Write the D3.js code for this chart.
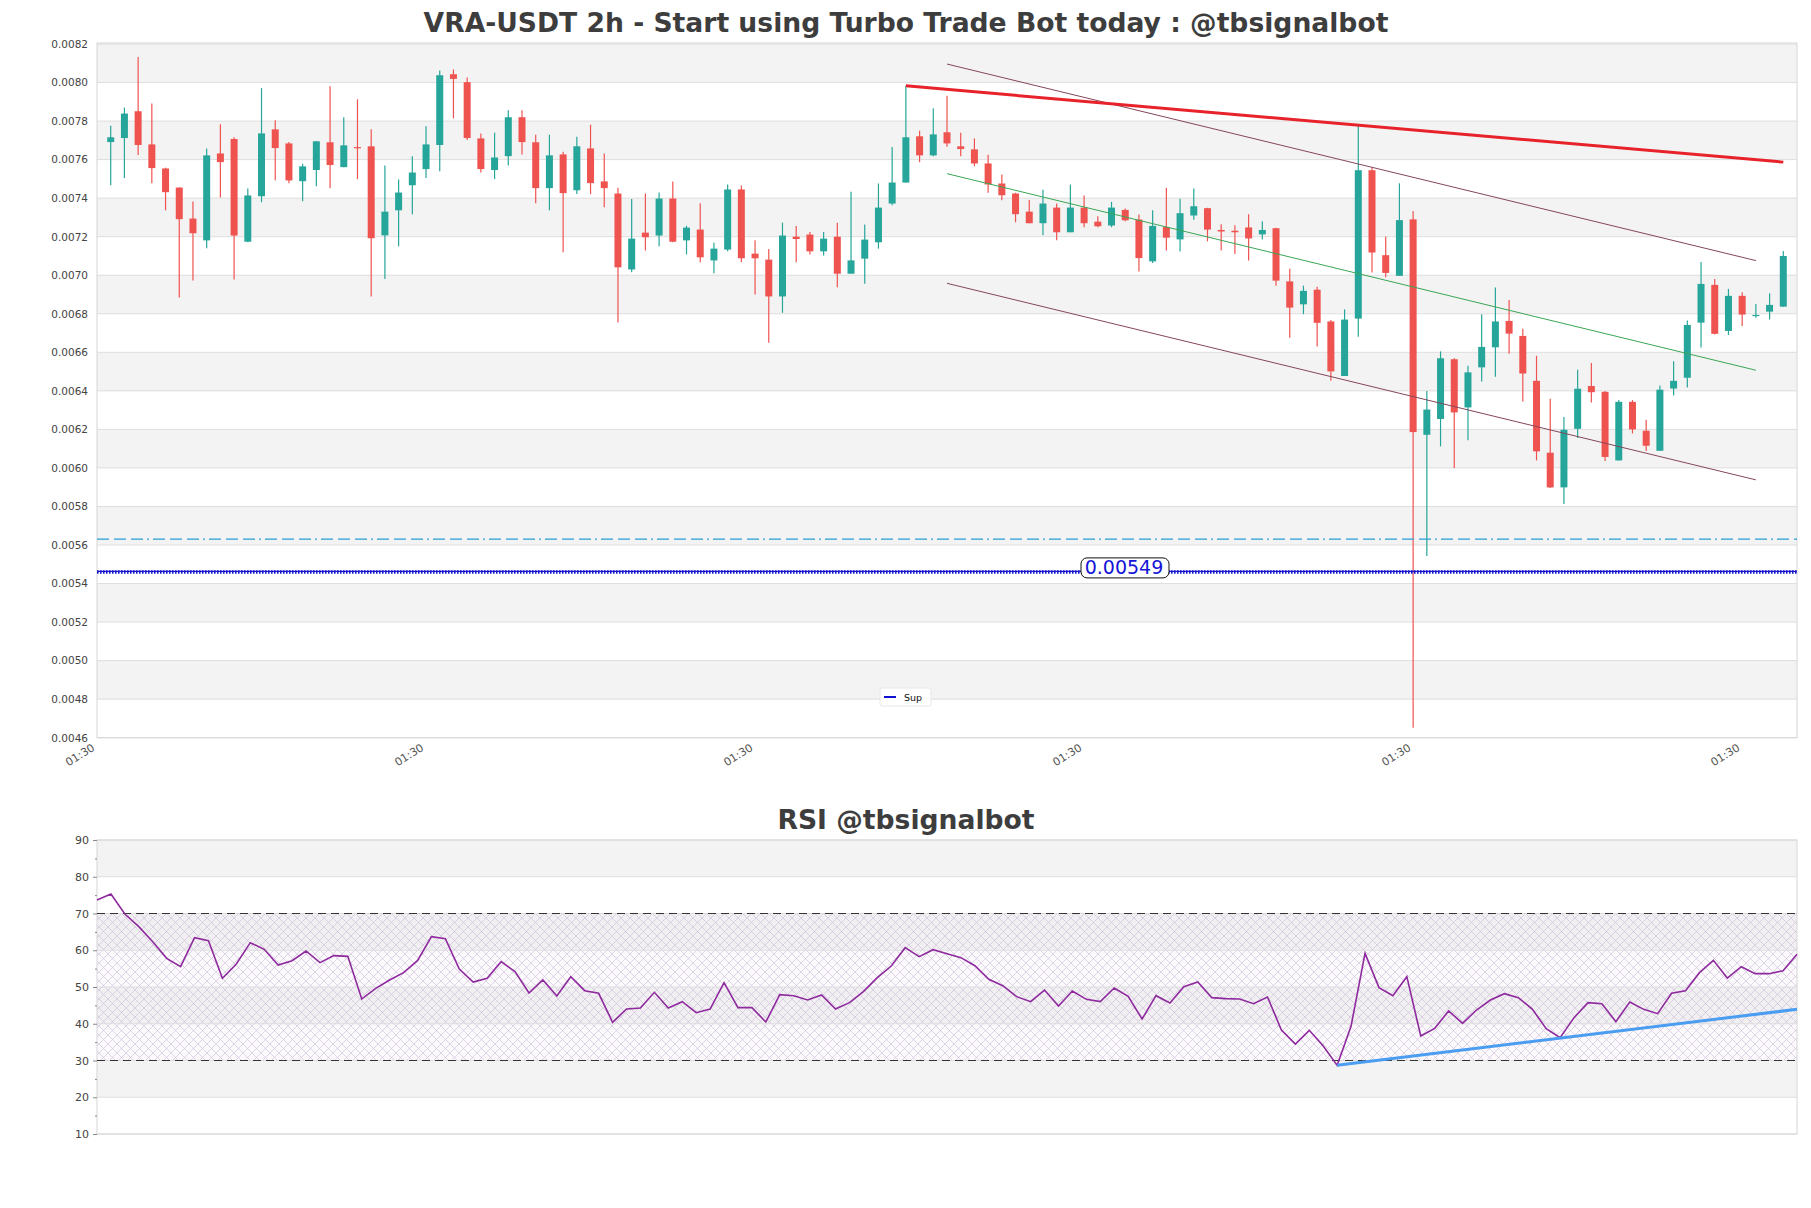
<!DOCTYPE html>
<html><head><meta charset="utf-8">
<script src="https://cdn.jsdelivr.net/npm/d3@7"></script>
<style>body{margin:0;background:#fff;} svg{display:block;font-family:"DejaVu Sans",sans-serif;}</style>
</head><body><svg id="c" width="1811" height="1208"></svg>
<script>
// ---------- DATA ----------
const titleText = "VRA-USDT 2h - Start using Turbo Trade Bot today : @tbsignalbot";
const rsiTitle = "RSI @tbsignalbot";
const open = [0.007691,0.007712,0.007851,0.007679,0.007554,0.007455,0.007294,0.007181,0.007632,0.007707,
0.007174,0.007410,0.007757,0.007684,0.007488,0.007546,0.007690,0.007561,0.007665,0.007669,
0.007207,0.007337,0.007467,0.007551,0.007676,0.008043,0.008002,0.007710,0.007546,0.007618,
0.007820,0.007690,0.007452,0.007627,0.007441,0.007658,0.007487,0.007424,0.007030,0.007221,
0.007206,0.007398,0.007181,0.007237,0.007077,0.007133,0.007445,0.007112,0.007081,0.006890,
0.007200,0.007211,0.007124,0.007200,0.007008,0.007086,0.007171,0.007372,0.007481,0.007721,
0.007622,0.007742,0.007669,0.007653,0.007580,0.007476,0.007424,0.007330,0.007270,0.007351,
0.007223,0.007351,0.007278,0.007258,0.007339,0.007289,0.007072,0.007250,0.007186,0.007310,
0.007348,0.007235,0.007231,0.007248,0.007212,0.007244,0.006968,0.006849,0.006925,0.006760,
0.006477,0.006775,0.007545,0.007104,0.006997,0.007290,0.006172,0.006254,0.006564,0.006314,
0.006522,0.006626,0.006763,0.006685,0.006452,0.006079,0.005899,0.006203,0.006425,0.006395,
0.006039,0.006343,0.006193,0.006089,0.006412,0.006468,0.006754,0.006950,0.006711,0.006893,
0.006791,0.006811,0.006837];
const high = [0.007776,0.007870,0.008132,0.007891,0.007558,0.007455,0.007382,0.007658,0.007783,0.007716,
0.007450,0.007971,0.007804,0.007691,0.007578,0.007696,0.007981,0.007820,0.007913,0.007757,
0.007570,0.007497,0.007617,0.007773,0.008062,0.008068,0.008026,0.007735,0.007740,0.007856,
0.007856,0.007729,0.007729,0.007641,0.007719,0.007781,0.007632,0.007454,0.007396,0.007424,
0.007429,0.007487,0.007256,0.007374,0.007169,0.007471,0.007466,0.007181,0.007136,0.007273,
0.007256,0.007225,0.007225,0.007273,0.007433,0.007263,0.007476,0.007665,0.007983,0.007750,
0.007866,0.007932,0.007740,0.007710,0.007625,0.007523,0.007428,0.007391,0.007443,0.007372,
0.007471,0.007414,0.007306,0.007381,0.007346,0.007315,0.007337,0.007454,0.007397,0.007450,
0.007350,0.007265,0.007259,0.007316,0.007280,0.007246,0.007034,0.006946,0.006940,0.006768,
0.006823,0.007779,0.007560,0.007201,0.007477,0.007333,0.006399,0.006605,0.006569,0.006530,
0.006798,0.006936,0.006872,0.006722,0.006582,0.006359,0.006264,0.006509,0.006545,0.006399,
0.006352,0.006352,0.006250,0.006428,0.006554,0.006765,0.007069,0.006981,0.006929,0.006912,
0.006851,0.006906,0.007126];
const low = [0.007467,0.007504,0.007624,0.007478,0.007337,0.006885,0.006973,0.007140,0.007403,0.006978,
0.007171,0.007379,0.007493,0.007478,0.007384,0.007462,0.007452,0.007561,0.007499,0.006890,
0.006980,0.007150,0.007317,0.007504,0.007540,0.007814,0.007702,0.007533,0.007499,0.007570,
0.007627,0.007374,0.007337,0.007119,0.007421,0.007421,0.007353,0.006755,0.007015,0.007129,
0.007150,0.007171,0.007108,0.007067,0.007010,0.007124,0.007067,0.006900,0.006650,0.006805,
0.007067,0.007108,0.007103,0.006937,0.007008,0.006956,0.007138,0.007363,0.007481,0.007587,
0.007618,0.007667,0.007618,0.007566,0.007428,0.007389,0.007275,0.007270,0.007207,0.007181,
0.007223,0.007249,0.007249,0.007249,0.007280,0.007020,0.007063,0.007129,0.007123,0.007288,
0.007176,0.007129,0.007110,0.007076,0.007186,0.006946,0.006675,0.006798,0.006630,0.006452,
0.006477,0.006681,0.007014,0.006989,0.006997,0.004651,0.005543,0.006112,0.006000,0.006144,
0.006448,0.006473,0.006592,0.006345,0.006039,0.005896,0.005813,0.006155,0.006340,0.006036,
0.006039,0.006179,0.006088,0.006089,0.006376,0.006418,0.006625,0.006692,0.006690,0.006737,
0.006780,0.006770,0.006837];
const close = [0.007716,0.007839,0.007676,0.007556,0.007431,0.007291,0.007218,0.007622,0.007587,0.007206,
0.007414,0.007736,0.007660,0.007492,0.007565,0.007695,0.007572,0.007674,0.007660,0.007192,
0.007330,0.007429,0.007533,0.007679,0.008038,0.008019,0.007712,0.007551,0.007611,0.007820,
0.007691,0.007452,0.007622,0.007426,0.007669,0.007478,0.007452,0.007041,0.007190,0.007197,
0.007398,0.007174,0.007247,0.007093,0.007138,0.007445,0.007088,0.007088,0.006890,0.007206,
0.007188,0.007124,0.007190,0.007008,0.007077,0.007185,0.007351,0.007481,0.007716,0.007622,
0.007731,0.007684,0.007655,0.007580,0.007471,0.007415,0.007317,0.007270,0.007372,0.007223,
0.007351,0.007270,0.007254,0.007351,0.007285,0.007089,0.007256,0.007195,0.007322,0.007358,
0.007237,0.007227,0.007223,0.007191,0.007235,0.006972,0.006832,0.006919,0.006753,0.006501,
0.006770,0.007545,0.007118,0.007012,0.007286,0.006186,0.006303,0.006569,0.006288,0.006496,
0.006628,0.006760,0.006697,0.006490,0.006086,0.005899,0.006198,0.006411,0.006393,0.006057,
0.006343,0.006200,0.006115,0.006406,0.006452,0.006742,0.006955,0.006696,0.006893,0.006796,
0.006794,0.006846,0.007100];
const rsi = [73.67,75.31,69.86,66.42,62.33,57.80,55.53,63.42,62.61,52.36,
56.26,62.06,60.25,55.99,57.17,59.80,56.62,58.53,58.34,46.73,
49.64,51.90,53.90,57.17,63.70,63.15,54.90,51.36,52.36,56.89,
54.17,48.37,51.90,47.55,52.81,49.00,48.28,40.39,44.01,44.29,
48.55,44.29,46.01,43.02,44.01,51.18,44.38,44.38,40.48,47.91,
47.64,46.46,47.82,44.01,45.74,48.73,52.54,55.71,60.70,58.25,
60.16,59.07,57.98,55.80,52.09,50.36,47.37,46.01,49.18,44.83,
48.91,46.64,46.01,49.73,47.46,41.29,47.64,45.65,50.09,51.36,
47.10,46.83,46.73,45.46,47.28,38.30,34.49,38.21,33.95,28.68,
39.39,59.16,49.82,47.64,52.81,36.67,38.75,43.47,40.11,43.74,
46.46,48.19,47.10,44.01,38.66,36.21,41.66,45.74,45.46,40.57,
45.92,43.92,42.74,48.28,49.00,53.90,57.26,52.45,55.53,53.63,
53.63,54.44,58.89];
const priceTicks = [0.0046,0.0048,0.0050,0.0052,0.0054,0.0056,0.0058,0.0060,0.0062,0.0064,0.0066,0.0068,0.0070,0.0072,0.0074,0.0076,0.0078,0.0080,0.0082];
const rsiTicks = [10,20,30,40,50,60,70,80,90];
const rsiMinorTicks = [15,25,35,45,55,65,75,85];
const xTickIdx = [-1,23,47,71,95,119];
const xTickLabels = ["01:30","01:30","01:30","01:30","01:30","01:30"];
// trend / channel lines [startIdx, startPrice, endIdx, endPrice]
const resistLine = [58,0.007983,122,0.007587];
const channelMid = [61,0.007527,120,0.006507];
const channelOffset = 0.000569;
const levelDash = 0.00563;
const supLevel = 0.005463;
const supLabel = "0.00549";
const rsiTrend = [89,28.68,122,43.93];
const rsiBands = [30,70];

// ---------- LAYOUT ----------
const L = 97, R = 1797, mTop = 44, mBot = 737.7, rTop = 840, rBot = 1134;
const svg = d3.select("#c");
const defs = svg.append("defs");
const pat = defs.append("pattern").attr("id","hatch").attr("width",9).attr("height",9).attr("patternUnits","userSpaceOnUse");
pat.append("path").attr("d","M0,0L9,9M9,0L0,9").attr("stroke","#c9bcd6").attr("stroke-width",0.6).attr("fill","none");

const x = d3.scaleLinear().domain([-1,123]).range([L,R]);
const y = d3.scaleLinear().domain([0.0046,0.0082]).range([mBot,mTop]);
const xr = d3.scaleLinear().domain([0,122]).range([L,R]);
const yr = d3.scaleLinear().domain([10,90]).range([rBot,rTop]);

// Titles
svg.append("text").attr("x",906).attr("y",32).attr("text-anchor","middle")
  .attr("font-size",26.6).attr("font-weight","bold").attr("fill","#3d3d3d").text(titleText);
svg.append("text").attr("x",906).attr("y",829).attr("text-anchor","middle")
  .attr("font-size",26.6).attr("font-weight","bold").attr("fill","#3d3d3d").text(rsiTitle);

// ---------- MAIN PANEL ----------
const gm = svg.append("g");
priceTicks.slice(0,-1).forEach((t,i)=>{
  if(i%2===1) gm.append("rect").attr("x",L).attr("width",R-L)
    .attr("y",y(priceTicks[i+1])).attr("height",y(t)-y(priceTicks[i+1])).attr("fill","#f3f3f3");
});
gm.selectAll(".pg").data(priceTicks).join("line").attr("x1",L).attr("x2",R)
  .attr("y1",d=>y(d)).attr("y2",d=>y(d)).attr("stroke","#dedede").attr("stroke-width",1);
gm.append("rect").attr("x",L).attr("y",mTop-1).attr("width",R-L).attr("height",mBot-mTop+1)
  .attr("fill","none").attr("stroke","#d6d6d6").attr("stroke-width",1);

const yAxis = d3.axisLeft(y).tickValues(priceTicks).tickFormat(d3.format(".4f")).tickSize(0).tickPadding(9);
const ya = gm.append("g").attr("transform",`translate(${L},0)`).call(yAxis);
ya.select(".domain").remove();
ya.selectAll("text").attr("font-size",10.5).attr("fill","#444").attr("font-family","DejaVu Sans");

const xAxis = d3.axisBottom(x).tickValues(xTickIdx).tickFormat((d,i)=>xTickLabels[i]).tickSize(0);
const xa = gm.append("g").attr("transform",`translate(0,${mBot})`).call(xAxis);
xa.select(".domain").remove();
xa.selectAll("text").attr("font-size",11).attr("fill","#555").attr("font-family","DejaVu Sans")
  .attr("text-anchor","end").attr("dy",0).attr("y",0)
  .attr("transform","translate(-2,12) rotate(-32)");

// candles
const idx = d3.range(open.length);
const up = i => close[i] >= open[i];
const colUp = "#26a69a", colDn = "#ef5350";
gm.selectAll(".wick").data(idx).join("line")
  .attr("x1",i=>x(i)).attr("x2",i=>x(i)).attr("y1",i=>y(high[i])).attr("y2",i=>y(low[i]))
  .attr("stroke",i=>up(i)?colUp:colDn).attr("stroke-width",1.2);
gm.selectAll(".body").data(idx).join("rect")
  .attr("x",i=>x(i)-3.5).attr("width",7)
  .attr("y",i=>y(Math.max(open[i],close[i])))
  .attr("height",i=>Math.max(1.2, Math.abs(y(open[i])-y(close[i]))))
  .attr("fill",i=>up(i)?colUp:colDn);

// channel
const chan = [
  {off:channelOffset, c:"#85475a", w:1},
  {off:0, c:"#3aa655", w:1},
  {off:-channelOffset, c:"#85475a", w:1}];
chan.forEach(c=>{
  gm.append("line").attr("x1",x(channelMid[0])).attr("x2",x(channelMid[2]))
    .attr("y1",y(channelMid[1]+c.off)).attr("y2",y(channelMid[3]+c.off))
    .attr("stroke",c.c).attr("stroke-width",c.w);
});
// resistance
gm.append("line").attr("x1",x(resistLine[0])).attr("x2",x(resistLine[2]))
  .attr("y1",y(resistLine[1])).attr("y2",y(resistLine[3]))
  .attr("stroke","#e8222a").attr("stroke-width",3);

// level lines
gm.append("line").attr("x1",L).attr("x2",R).attr("y1",y(levelDash)).attr("y2",y(levelDash))
  .attr("stroke","#2a9fd6").attr("stroke-width",1.2).attr("stroke-dasharray","12,5,12,5,12,4,2,4");
gm.append("line").attr("x1",L).attr("x2",R).attr("y1",y(supLevel)).attr("y2",y(supLevel))
  .attr("stroke","#1010d0").attr("stroke-width",1.2);
gm.append("line").attr("x1",L).attr("x2",R).attr("y1",y(supLevel)+0.5).attr("y2",y(supLevel)+0.5)
  .attr("stroke","#1818cc").attr("stroke-width",3.5).attr("stroke-dasharray","1.6,1.4");
// sup label
gm.append("rect").attr("x",1081).attr("y",y(supLevel)-13.5).attr("width",88).attr("height",20).attr("rx",6)
  .attr("fill","#fff").attr("stroke","#111").attr("stroke-width",1);
gm.append("text").attr("x",1124).attr("y",y(supLevel)+2.5).attr("text-anchor","middle")
  .attr("font-size",19).attr("fill","#1414d8").text(supLabel);

// legend
const lg = gm.append("g").attr("transform","translate(880,688)");
lg.append("rect").attr("width",51).attr("height",18).attr("rx",2).attr("fill","#fff").attr("fill-opacity",0.85).attr("stroke","#e6e6e6");
lg.append("line").attr("x1",4).attr("x2",16).attr("y1",9).attr("y2",9).attr("stroke","#1010d0").attr("stroke-width",2);
lg.append("text").attr("x",24).attr("y",12.5).attr("font-size",9.5).attr("fill","#111").text("Sup");

// ---------- RSI PANEL ----------
const gr = svg.append("g");
rsiTicks.slice(0,-1).forEach((t,i)=>{
  if(i%2===1) gr.append("rect").attr("x",L).attr("width",R-L)
    .attr("y",yr(rsiTicks[i+1])).attr("height",yr(t)-yr(rsiTicks[i+1])).attr("fill","#f3f3f3");
});
gr.append("rect").attr("x",L).attr("width",R-L).attr("y",yr(rsiBands[1])).attr("height",yr(rsiBands[0])-yr(rsiBands[1]))
  .attr("fill","#e8dcef").attr("fill-opacity",0.18);
gr.append("rect").attr("x",L).attr("width",R-L).attr("y",yr(rsiBands[1])).attr("height",yr(rsiBands[0])-yr(rsiBands[1]))
  .attr("fill","url(#hatch)");
gr.selectAll(".rg").data(rsiTicks).join("line").attr("x1",L).attr("x2",R)
  .attr("y1",d=>yr(d)).attr("y2",d=>yr(d)).attr("stroke","#dedede");
gr.append("rect").attr("x",L).attr("y",rTop).attr("width",R-L).attr("height",rBot-rTop)
  .attr("fill","none").attr("stroke","#d6d6d6");
rsiBands.forEach(v=>{
  gr.append("line").attr("x1",L).attr("x2",R).attr("y1",yr(v)).attr("y2",yr(v))
    .attr("stroke","#333").attr("stroke-width",1.1).attr("stroke-dasharray","8,5");
});
const ra = gr.append("g").attr("transform",`translate(${L},0)`)
  .call(d3.axisLeft(yr).tickValues(rsiTicks).tickSize(4).tickPadding(4));
ra.select(".domain").remove();
ra.selectAll("line").attr("stroke","#888");
ra.selectAll("text").attr("font-size",11).attr("fill","#444").attr("font-family","DejaVu Sans");
const rm = gr.append("g").attr("transform",`translate(${L},0)`)
  .call(d3.axisLeft(yr).tickValues(rsiMinorTicks).tickSize(2).tickFormat(""));
rm.select(".domain").remove();
rm.selectAll("line").attr("stroke","#888");

gr.append("path").datum(rsi).attr("fill","none").attr("stroke","#8e2a9e").attr("stroke-width",1.6)
  .attr("d",d3.line().x((d,i)=>xr(i)).y(d=>yr(d)));
gr.append("line").attr("x1",xr(rsiTrend[0])).attr("x2",xr(rsiTrend[2]))
  .attr("y1",yr(rsiTrend[1])).attr("y2",yr(rsiTrend[3]))
  .attr("stroke","#4a9df0").attr("stroke-width",3);
</script></body></html>
